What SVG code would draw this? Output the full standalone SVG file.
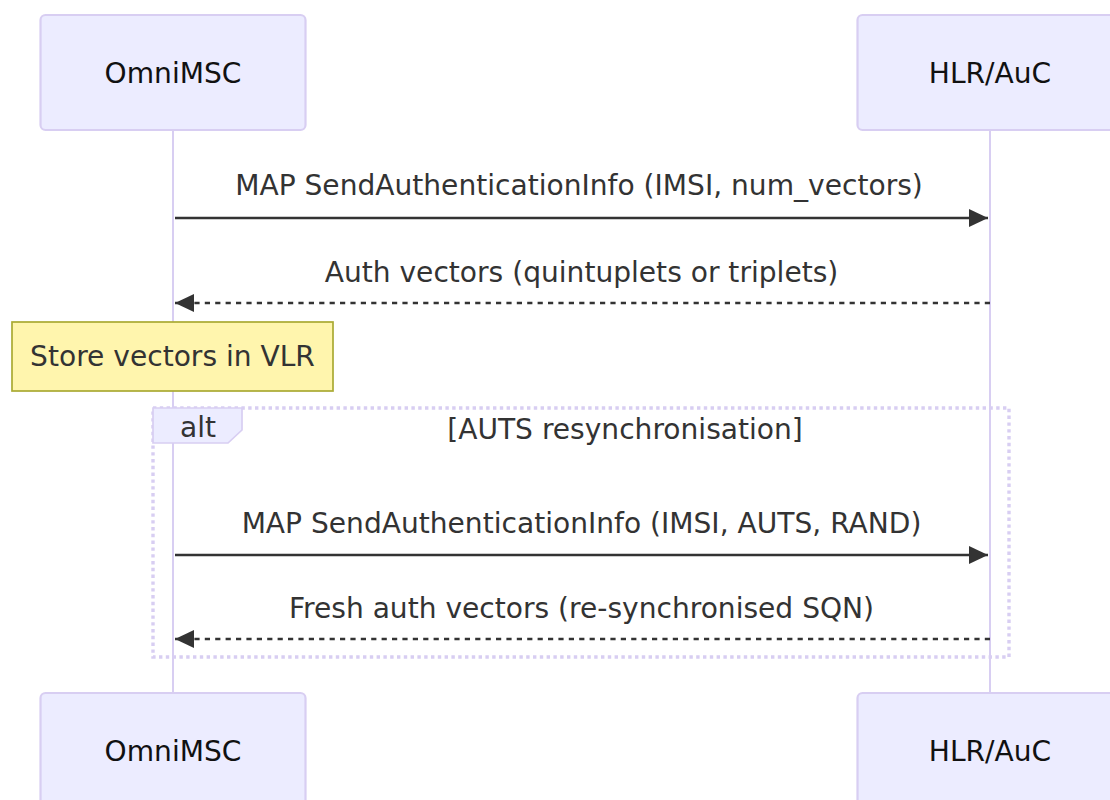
<svg xmlns="http://www.w3.org/2000/svg" width="1110" height="800" viewBox="0 0 1110 800">
<style>
  text { font-family: "DejaVu Sans", Verdana, sans-serif; font-size: 28.1px; }
  .actor rect { fill: #ECECFF; stroke: #D8CEF2; stroke-width: 2.2; }
  .actor text { fill: #111; text-anchor: middle; }
  .life { stroke: #D8CEF2; stroke-width: 2; }
  .msg { stroke: #333; stroke-width: 2.6; fill: none; }
  .dash { stroke-dasharray: 5.2 5.2; }
  .msgtxt { fill: #333; text-anchor: middle; }
  .loopline { stroke: #D8CEF2; stroke-width: 3.4; stroke-dasharray: 3.4 3.4; fill: none; }
</style>
<defs>
  <marker id="arrow" markerUnits="userSpaceOnUse" markerWidth="20" markerHeight="20" viewBox="0 0 20 20" refX="19" refY="9" orient="auto">
    <path d="M 0 0 L 19 9 L 0 18 z" fill="#333"/>
  </marker>
</defs>
<rect width="1110" height="800" fill="#fff"/>
<g id="lifelines">
  <line class="life" x1="173" y1="130" x2="173" y2="693"/>
  <line class="life" x1="990" y1="130" x2="990" y2="693"/>
</g>
<g id="actor-omnimsc-top" class="actor">
  <rect x="40.5" y="15" width="265" height="115" rx="5"/>
  <text x="173" y="83">OmniMSC</text>
</g>
<g id="actor-hlr-top" class="actor">
  <rect x="857.5" y="15" width="265" height="115" rx="5"/>
  <text x="990" y="83">HLR/AuC</text>
</g>
<g id="actor-omnimsc-bottom" class="actor">
  <rect x="40.5" y="693" width="265" height="115" rx="5"/>
  <text x="173" y="761">OmniMSC</text>
</g>
<g id="actor-hlr-bottom" class="actor">
  <rect x="857.5" y="693" width="265" height="115" rx="5"/>
  <text x="990" y="761">HLR/AuC</text>
</g>
<g id="note-vlr">
  <rect x="12" y="322" width="321" height="69" fill="#FFF5AD" stroke="#AAAA33" stroke-width="1.7"/>
  <text x="172.5" y="366" fill="#333" text-anchor="middle">Store vectors in VLR</text>
</g>
<g id="alt-block">
  <rect class="loopline" x="153" y="408" width="856" height="249"/>
  <polygon points="153,408 242,408 242,430 228,443 153,443" fill="#ECECFF" stroke="#D8CEF2" stroke-width="1.7"/>
  <text x="198" y="437" fill="#333" text-anchor="middle">alt</text>
  <text x="625" y="439" fill="#333" text-anchor="middle">[AUTS resynchronisation]</text>
</g>
<g id="connectors">
  <line class="msg" x1="175" y1="218" x2="988" y2="218" marker-end="url(#arrow)"/>
  <text class="msgtxt" x="579" y="195">MAP SendAuthenticationInfo (IMSI, num_vectors)</text>
  <line class="msg dash" x1="990" y1="303" x2="175" y2="303" marker-end="url(#arrow)"/>
  <text class="msgtxt" x="581.5" y="282">Auth vectors (quintuplets or triplets)</text>
  <line class="msg" x1="175" y1="555" x2="988" y2="555" marker-end="url(#arrow)"/>
  <text class="msgtxt" x="581.5" y="533">MAP SendAuthenticationInfo (IMSI, AUTS, RAND)</text>
  <line class="msg dash" x1="990" y1="639" x2="175" y2="639" marker-end="url(#arrow)"/>
  <text class="msgtxt" x="581.5" y="618">Fresh auth vectors (re-synchronised SQN)</text>
</g>
</svg>
